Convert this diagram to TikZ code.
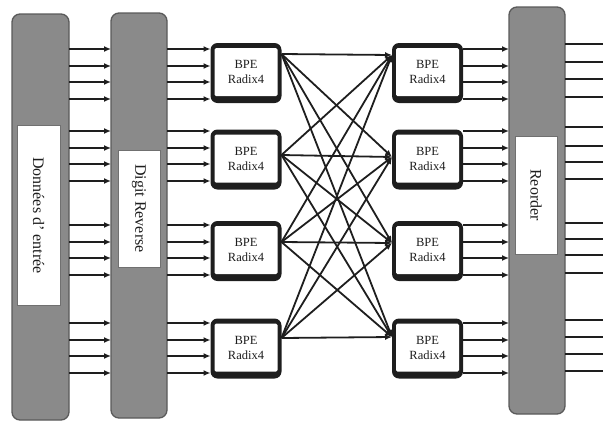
\documentclass[tikz,border=0pt]{standalone}
\usepackage{fontspec}
\setmainfont{Liberation Serif}
\usetikzlibrary{arrows.meta}
\definecolor{colfill}{HTML}{8A8A8A}
\definecolor{coledge}{HTML}{5A5A5A}
\definecolor{lbledge}{HTML}{707070}
\definecolor{ink}{HTML}{1E1E1E}
\begin{document}
\begin{tikzpicture}[x=1pt,y=-1pt,
  stage/.style={draw=coledge,fill=colfill,line width=1.3pt,rounded corners=8pt,
    inner sep=0pt,outer sep=0pt,minimum width=56pt},
  tag/.style={draw=lbledge,fill=white,line width=1pt,rotate=-90,inner sep=0pt,
    outer sep=0pt,text=ink,font=\fontsize{16}{18}\selectfont},
  bpeframe/.style={fill=ink,rounded corners=7pt,minimum width=71pt,minimum height=60pt,
    inner sep=0pt,outer sep=0pt},
  bpecore/.style={fill=white,rounded corners=1.5pt,minimum width=63pt,minimum height=48pt,
    inner sep=0pt,outer sep=0pt,align=center,text=ink,font=\fontsize{12.5}{15}\selectfont},
  link/.style={draw=ink,line width=1.8pt,-{Latex[length=7pt,width=6pt]}},
  wire/.style={draw=ink,line width=1.8pt}
]
\useasboundingbox (0,0) rectangle (603,424);

% the three vertical stages
\node[stage,minimum width=57pt,minimum height=406pt] (din) at (40.5,217) {};
\node[stage,minimum height=405pt] (drev) at (139,215.5) {};
\node[stage,minimum height=407pt] (reo) at (537,210.5) {};

\node[tag,minimum width=180pt,minimum height=43pt] (tdin) at (38.5,215.5) {Données d' entrée};
\node[tag,minimum width=117pt,minimum height=42pt] (tdrev) at (139,208.5) {Digit Reverse};
\node[tag,minimum width=118pt,minimum height=42pt] (treo) at (536,195) {Reorder};

% butterfly processing elements, two columns of four
\foreach \i/\y in {1/73,2/159.5,3/251,4/348.5}{
  \node[bpeframe] (bl\i) at (246,\y) {};
  \node[bpecore] (cl\i) at (246,\y-1) {BPE\\Radix4};
  \node[bpeframe] (br\i) at (427.5,\y) {};
  \node[bpecore] (cr\i) at (427.5,\y-1) {BPE\\Radix4};
}

% parallel data lanes between the stages
\foreach \y in {49,66,82,99,131,148,164,181,225,242,258,275,323,340,356,373}{
  \coordinate (lane) at (0,\y);
  \draw[link] (din.east |- lane) -- (drev.west |- lane);
  \draw[link] (drev.east |- lane) -- (bl1.west |- lane);
  \draw[link] (br1.east |- lane) -- (reo.west |- lane);
}

% output lanes leaving the reorder stage
\coordinate (rim) at (603,0);
\foreach \y in {44,62,79,97,127,146,162,179,223,239,255,273,320,337,354,371}{
  \coordinate (lane) at (0,\y);
  \draw[wire] (reo.east |- lane) -- (rim |- lane);
}

% full crossbar between the two BPE columns
\foreach \i/\s/\t in {1/54/55,2/155/157,3/242/243,4/338/337}{
  \coordinate (hs) at (0,\s);
  \coordinate (ht) at (0,\t);
  \coordinate (src\i) at (bl\i.east |- hs);
  \coordinate (dst\i) at (br\i.west |- ht);
}
\foreach \i in {1,...,4}{
  \foreach \j in {1,...,4}{
    \draw[link] (src\i) -- (dst\j);
  }
}
\end{tikzpicture}
\end{document}
